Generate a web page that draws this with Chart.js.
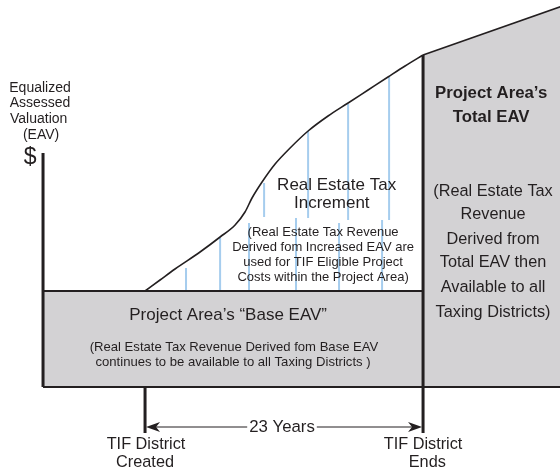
<!DOCTYPE html>
<html>
<head>
<meta charset="utf-8">
<style>
html,body{margin:0;padding:0;background:#fff;}
#wrap{position:relative;width:560px;height:473px;}
</style>
<script src="https://cdn.jsdelivr.net/npm/chart.js@4.4.1/dist/chart.umd.min.js"></script>
</head>
<body>
<div id="wrap"><canvas id="c"></canvas></div>
<script>
// ---- Data (x = years since TIF creation, y = EAV index units) ----
const curveYears   = [0, 1.24, 2.48, 4.55, 6.21, 7.45, 8.27, 8.85, 9.68, 10.76, 12.0, 13.49, 15.14, 16.8, 18.45, 20.1, 21.51, 23];
const curveEAV     = [96, 107, 118, 135, 150, 162, 175, 189, 205, 223, 239, 256, 271, 284, 297, 310, 321, 332];
const afterYears   = [23, 35];
const afterEAV     = [332, 383];
const baseEAV      = 96;
const tifStart     = 0;
const tifEnd       = 23;
const axisStartYear = -8.44;
const axisTopEAV   = 234;
const tickBottomEAV = -46;
const arrowEAV     = -40;
const lowerSegYears  = [3.39, 6.21, 8.60, 12.49, 16.05, 19.61];
const lowerSegTop    = [119, 149, 164, 169, 164, 167];
const upperSegYears  = [9.85, 13.49, 16.80, 20.19];
const upperSegTop    = [204, 256, 283, 310];
const upperSegBottom = [170, 169, 167, 167];

const INK = '#231f20';
const GRAY = '#d3d2d4';
const BLUE = '#a6cdee';
const FONT = '"Liberation Sans", Arial, Helvetica, sans-serif';

const pts = (xs, ys) => xs.map((x, i) => ({x, y: ys[i]}));

// blue increment segments, separated by gaps
const segData = [];
lowerSegYears.forEach((x, i) => { segData.push({x, y: lowerSegTop[i]}, {x, y: baseEAV}, {x, y: null}); });
upperSegYears.forEach((x, i) => { segData.push({x, y: upperSegTop[i]}, {x, y: upperSegBottom[i]}, {x, y: null}); });

const lineDs = (data, width, color, order) => ({
  data, borderColor: color, borderWidth: width, pointRadius: 0, fill: false,
  tension: 0, spanGaps: false, order, borderCapStyle: 'butt'
});

const datasets = [
  // fills
  {data: [{x: axisStartYear, y: baseEAV}, {x: tifEnd, y: baseEAV}], borderWidth: 0, pointRadius: 0,
   backgroundColor: GRAY, fill: {value: 0}, order: 20},
  {data: pts(afterYears, afterEAV), borderWidth: 0, pointRadius: 0,
   backgroundColor: GRAY, fill: {value: 0}, order: 20},
  // blue increment lines
  lineDs(segData, 2, BLUE, 10),
  // borders
  lineDs([{x: axisStartYear, y: baseEAV}, {x: tifEnd, y: baseEAV}], 2, INK, 2),
  lineDs([{x: axisStartYear, y: 0}, {x: afterYears[1], y: 0}], 2, INK, 2),
  lineDs([{x: axisStartYear, y: axisTopEAV}, {x: axisStartYear, y: 0}], 3, INK, 1),
  lineDs([{x: tifEnd, y: curveEAV[curveEAV.length - 1]}, {x: tifEnd, y: tickBottomEAV}], 3, INK, 1),
  lineDs([{x: tifStart, y: 0}, {x: tifStart, y: tickBottomEAV}], 3, INK, 1),
  // curve + total EAV line
  Object.assign(lineDs(pts(curveYears, curveEAV), 1.6, INK, 1), {tension: 0.35, cubicInterpolationMode: 'monotone'}),
  lineDs(pts(afterYears, afterEAV), 1.6, INK, 1),
  // arrow shaft
  lineDs([{x: tifStart + 0.8, y: arrowEAV}, {x: tifEnd - 0.8, y: arrowEAV}], 1, INK, 1)
];

const labels = [
  {t: 'Equalized', x: -8.69, y: 299, f: '14px'},
  {t: 'Assessed', x: -8.69, y: 284, f: '14px'},
  {t: 'Valuation', x: -8.80, y: 268, f: '14px'},
  {t: '(EAV)', x: -8.60, y: 252, f: '14px'},
  {t: '$', x: -9.51, y: 229, f: '23px'},
  {t: 'Real Estate Tax', x: 15.85, y: 202, f: '17px'},
  {t: 'Increment', x: 15.45, y: 184, f: '17px'},
  {t: '(Real Estate Tax Revenue', x: 14.73, y: 155, f: '13px'},
  {t: 'Derived fom Increased EAV are', x: 14.73, y: 140, f: '13px'},
  {t: 'used for TIF Eligible Project', x: 14.73, y: 125, f: '13px'},
  {t: 'Costs within the Project Area)', x: 14.73, y: 110, f: '13px'},
  {t: 'Project Area\u2019s \u201cBase EAV\u201d', x: 6.87, y: 72, f: '17px'},
  {t: '(Real Estate Tax Revenue Derived fom Base EAV', x: 7.36, y: 40, f: '13.1px'},
  {t: 'continues to be available to all Taxing Districts )', x: 7.28, y: 25, f: '13.1px'},
  {t: 'Project Area\u2019s', x: 28.63, y: 294, f: 'bold 16.8px'},
  {t: 'Total EAV', x: 28.63, y: 270, f: 'bold 16.8px'},
  {t: '(Real Estate Tax', x: 28.79, y: 195, f: '16.3px'},
  {t: 'Revenue', x: 28.79, y: 172, f: '16.3px'},
  {t: 'Derived from', x: 28.79, y: 147, f: '16.3px'},
  {t: 'Total EAV then', x: 28.79, y: 124, f: '16.3px'},
  {t: 'Available to all', x: 28.79, y: 99, f: '16.3px'},
  {t: 'Taxing Districts)', x: 28.79, y: 74, f: '16.3px'},
  {t: 'TIF District', x: 0.08, y: -58, f: '16.3px'},
  {t: 'Created', x: 0.0, y: -76, f: '16.3px'},
  {t: 'TIF District', x: 23.0, y: -58, f: '16.3px'},
  {t: 'Ends', x: 23.35, y: -76, f: '16.3px'}
];

const annot = {
  id: 'annot',
  afterDatasetsDraw(chart) {
    const {ctx, scales: {x, y}} = chart;
    ctx.save();
    // arrowheads
    const yy = y.getPixelForValue(arrowEAV);
    const head = (tip, dir) => {
      ctx.beginPath();
      ctx.moveTo(tip, yy);
      ctx.lineTo(tip + dir * 14, yy - 5);
      ctx.lineTo(tip + dir * 10, yy);
      ctx.lineTo(tip + dir * 14, yy + 5);
      ctx.closePath();
      ctx.fillStyle = INK;
      ctx.fill();
    };
    head(x.getPixelForValue(tifStart) + 1, 1);
    head(x.getPixelForValue(tifEnd) - 1, -1);
    // "23 Years" with white backing
    ctx.font = '16.8px ' + FONT;
    ctx.textAlign = 'center';
    ctx.textBaseline = 'middle';
    const yrTxt = (tifEnd - tifStart) + ' Years';
    const cx = x.getPixelForValue(11.33);
    const w = ctx.measureText(yrTxt).width;
    ctx.fillStyle = '#fff';
    ctx.fillRect(cx - w / 2 - 2, yy - 8, w + 4, 16);
    ctx.fillStyle = INK;
    ctx.fillText(yrTxt, cx, yy);
    // labels
    labels.forEach(l => {
      ctx.font = l.f + ' ' + FONT;
      ctx.fillStyle = INK;
      ctx.fillText(l.t, x.getPixelForValue(l.x), y.getPixelForValue(l.y));
    });
    ctx.restore();
  }
};

new Chart(document.getElementById('c'), {
  type: 'line',
  data: {datasets},
  options: {
    responsive: true,
    maintainAspectRatio: false,
    animation: false,
    layout: {padding: 0},
    plugins: {legend: {display: false}, tooltip: {enabled: false}},
    scales: {
      x: {type: 'linear', min: -12, max: 34.33, display: false},
      y: {type: 'linear', min: -86, max: 387, display: false}
    }
  },
  plugins: [annot]
});
</script>
</body>
</html>
